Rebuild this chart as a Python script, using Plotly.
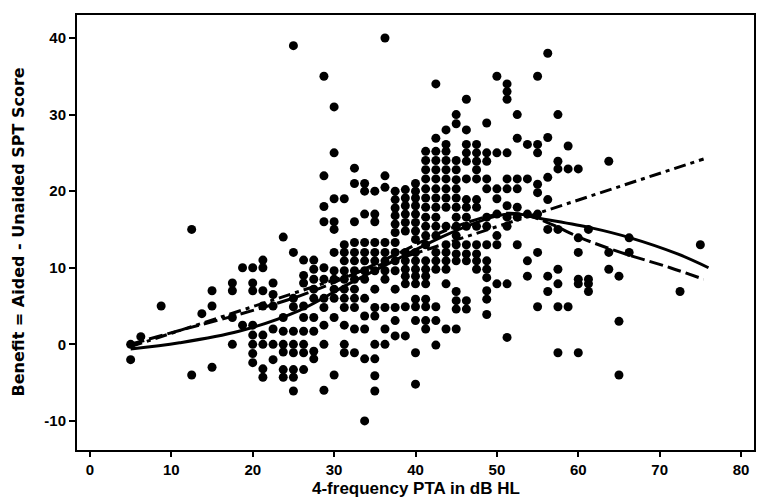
import plotly.graph_objects as go

# Scatter data: PTA column (dB HL) -> benefit values
pta_columns = [5, 6.25, 8.75, 12.5, 13.75, 15, 17.5, 18.75, 20, 21.25, 22.5, 23.75, 25,
               26.25, 27.5, 28.75, 30, 31.25, 32.5, 33.75, 35, 36.25, 37.5, 38.75, 40,
               41.25, 42.5, 43.75, 45, 46.25, 47.5, 48.75, 50, 51.25, 52.5, 53.75, 55,
               56.25, 57.5, 58.75, 60, 61.25, 63.75, 65, 66.25, 72.5, 75]
benefit_columns = [
    [-2, 0],
    [1],
    [5],
    [15, -4],
    [4],
    [7, 5, -3],
    [8, 7, 3.5, 0],
    [10, 2.5],
    [10, 8, 7, 2.5, 1.2, 0, -1.2, -2.4],
    [11, 10, 7, 5, 1.2, 0, -3.2, -4.3],
    [8, 6.5, 5, 2, 0, -2],
    [14, 3.5, 1.7, 0, -1, -3.3, -4.3],
    [39, 12, 6, 4.9, 1.7, 0, -1.1, -3.3, -4.3, -6.1],
    [11, 9, 8, 5, 3.5, 1.7, 0, -1.1, -3.3],
    [11, 9.8, 8.5, 7.2, 6, 3.5, 1.7, -0.9, -1.9],
    [35, 22, 18, 16, 10, 8.5, 6, 4.8, 2.5, 0, -6],
    [31, 25, 19, 16, 15, 12, 9.6, 8.5, 7.2, 6, 3.5, -4],
    [19, 13, 12, 10.9, 9.6, 8.5, 7.2, 6, 4.8, 2.5, 0, -1.1],
    [23, 21, 16, 13.3, 12, 10.9, 9.6, 8.5, 7.2, 6, 4.8, 2, -1.1],
    [21, 20, 17, 13.3, 12, 10.9, 9.6, 8.5, 6, 3.7, 2, -1.9, -10],
    [20, 17, 16, 13.3, 12, 10.9, 9.6, 7.2, 4.8, 3.7, 0, -1.9, -4.1, -6.1],
    [40, 22, 20.5, 13.3, 12, 10.9, 9.6, 8.5, 4.8, 2, 0],
    [20, 18.9, 17.8, 16.8, 15.7, 14.6, 13.3, 12, 10.9, 9.6, 7.2, 4.8, 3.1, 1.1],
    [20.2, 19.1, 18.1, 17, 15.9, 14.8, 12, 10.9, 9.8, 8.9, 7.9, 4.9, 1.1],
    [21, 20, 19.1, 18.1, 17, 15.9, 14.8, 13.7, 12, 10.9, 9.8, 8.9, 7.9, 5.9, 4.9, 3.1, -1.1, -5.2],
    [25.2, 24, 22.8, 21.6, 20.3, 19.1, 17.9, 16.6, 15.4, 14.2, 13, 10.9, 9.8, 8.9, 7.9, 5.9, 4.9, 3.1, 2],
    [34, 26.9, 25.2, 24, 22.8, 21.6, 20.3, 19.1, 17.9, 16.6, 15.4, 14.2, 12, 10.9, 9.8, 4.9, 3.1, -0.1],
    [28, 26.1, 25.2, 24, 22.8, 21.6, 20.3, 19.1, 17.9, 15.4, 13, 12, 10.9, 9.8, 7.9, 2],
    [30, 28.8, 24, 22.8, 21.5, 20.3, 19.1, 17.9, 16.6, 15.4, 14.2, 13, 11.8, 10.9, 6.9, 5.7, 4.6, 2],
    [32, 28, 26.1, 25, 23.9, 21.6, 18.9, 17.9, 16.6, 15.4, 13, 11.8, 10.9, 5.7, 4.6],
    [26.1, 25, 23.9, 22.8, 21.6, 18.9, 17.9, 15.4, 13, 11.8, 10.9, 9.8],
    [28.9, 25, 23.9, 21.6, 20.3, 16.6, 15.4, 13, 10.9, 9.8, 8.7, 7, 5.9, 3.9],
    [35, 25, 20.3, 19, 17, 14.2, 13, 7.9],
    [34, 33, 32, 25, 21.6, 20.3, 18.1, 16.6, 15.4, 7.9, 0.9],
    [30, 26.9, 21.6, 20.3, 17.9, 16.6, 13],
    [26.1, 21.6, 17, 10.9, 8.9],
    [35, 26.1, 25, 20.9, 19.8, 17, 12, 4.9],
    [38, 27, 21.8, 18.9, 15, 8.9, 6.9],
    [30, 23.9, 22.9, 15, 9.8, 7.9, 4.9, -1.1],
    [25.9, 22.9, 4.9],
    [22.9, 13.9, 12, 8.5, 7.9, -1.1],
    [15, 8.5, 7.9, 6.9],
    [23.9, 12, 9.8],
    [8.9, 3, -4],
    [13.9, 12],
    [6.9],
    [13],
]

# Fitted curves
solid_x = [5, 11, 18.3, 25.7, 31.8, 37.9, 44, 50.2, 52.6, 55, 61.6, 66.4, 72.2, 76]
solid_y = [-0.6, 0.2, 1.7, 4.4, 7.9, 11.2, 14.4, 16.8, 17, 16.5, 15.2, 13.9, 11.8, 10]
dashed_x = [5, 11, 18.3, 25.7, 31.8, 37.9, 44, 50.2, 53, 56, 60.3, 65.2, 71.3, 75.4]
dashed_y = [0, 1.8, 3.9, 6.3, 8.9, 11.9, 15, 17, 17, 16, 13.9, 12, 10, 8.5]
dashdot_x = [5, 75.4]
dashdot_y = [-0.3, 24.2]

x_ticks = [0, 10, 20, 30, 40, 50, 60, 70, 80]
y_ticks = [-10, 0, 10, 20, 30, 40]
y_tick_text = ["-10", "0", "10", "20", "30", "40"]

pta = []
benefit = []
for xv, ys in zip(pta_columns, benefit_columns):
    for yv in ys:
        pta.append(xv)
        benefit.append(yv)

fig = go.Figure()
fig.add_trace(go.Scatter(x=pta, y=benefit, mode="markers",
                         marker=dict(size=9, color="black", line=dict(width=0)),
                         hoverinfo="skip", showlegend=False))
fig.add_trace(go.Scatter(x=solid_x, y=solid_y, mode="lines", line_shape="spline",
                         line=dict(color="black", width=3), showlegend=False))
fig.add_trace(go.Scatter(x=dashed_x, y=dashed_y, mode="lines", line_shape="spline",
                         line=dict(color="black", width=3, dash="14px,5px"), showlegend=False))
fig.add_trace(go.Scatter(x=dashdot_x, y=dashdot_y, mode="lines",
                         line=dict(color="black", width=3, dash="12px,5px,4px,5px"), showlegend=False))

tickfont = dict(family="Liberation Sans", size=15, color="black", weight="bold")
fig.update_xaxes(range=[-1.59, 81.59], tickvals=x_ticks, ticks="outside", ticklen=5,
                 tickwidth=1.5, tickcolor="black", showgrid=False, zeroline=False,
                 showline=True, linecolor="black", linewidth=2, mirror=True,
                 tickfont=tickfont)
fig.update_yaxes(range=[-13.8, 43.0], tickvals=y_ticks, ticktext=y_tick_text,
                 ticks="outside", ticklen=6,
                 tickwidth=1.5, tickcolor="black", showgrid=False, zeroline=False,
                 showline=True, linecolor="black", linewidth=2, mirror=True,
                 tickfont=tickfont)

fig.add_annotation(text="<b>4-frequency PTA in dB HL</b>", xref="paper", yref="paper",
                   x=0.5, y=0, yshift=-38, yanchor="middle", showarrow=False,
                   font=dict(family="Liberation Sans", size=17, color="black"))
fig.add_annotation(text="<b>Benefit = Aided - Unaided SPT Score</b>", xref="paper", yref="paper",
                   x=0, xshift=-59, xanchor="center", y=0.5, textangle=-90, showarrow=False,
                   font=dict(family="DejaVu Sans", size=16, color="black"))

fig.update_layout(width=759, height=497, margin=dict(l=77, r=3, t=15, b=47),
                  plot_bgcolor="white", paper_bgcolor="white")
fig.write_html("out.html")
